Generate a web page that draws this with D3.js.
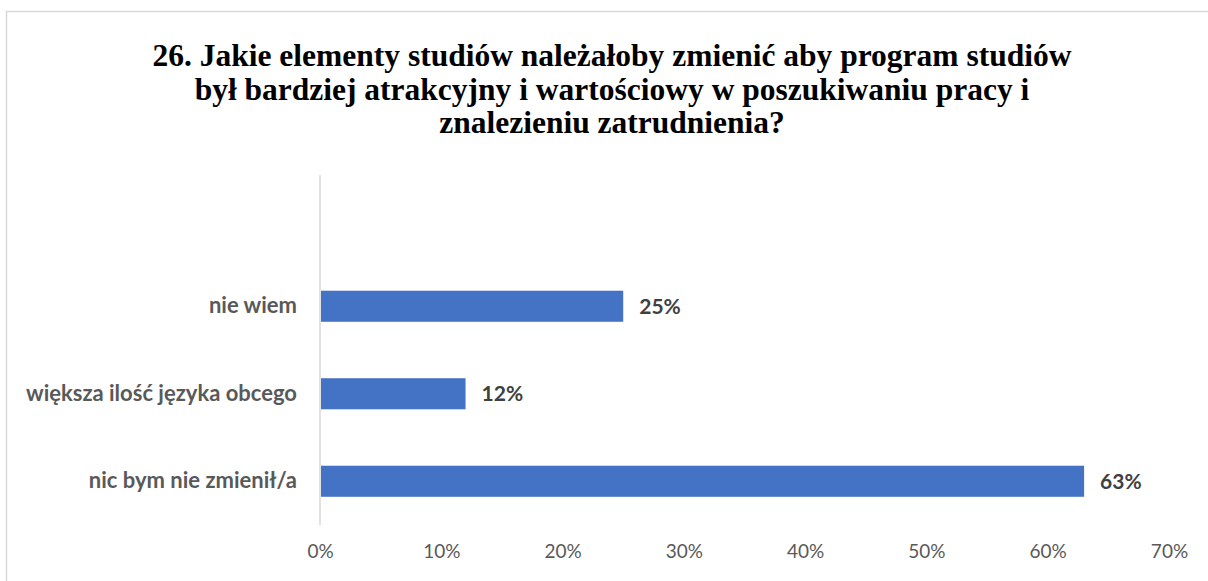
<!DOCTYPE html>
<html><head><meta charset="utf-8">
<script src="https://cdn.jsdelivr.net/npm/d3@7"></script>
<style>body{margin:0;background:#fff}svg{display:block}</style>
</head><body>
<script>
const titleLines = [
  "26. Jakie elementy studiów należałoby zmienić aby program studiów",
  "był bardziej atrakcyjny i wartościowy w poszukiwaniu pracy i",
  "znalezieniu zatrudnienia?"
];
const categories = ["", "nie wiem", "większa ilość języka obcego", "nic bym nie zmienił/a"];
const values = [null, 25, 12, 63];
const ticks = [0, 10, 20, 30, 40, 50, 60, 70];

const W = 1208, H = 581;
const svg = d3.select("body").append("svg").attr("width", W).attr("height", H);

svg.append("rect").attr("x", 6.5).attr("y", 11.5).attr("width", 1400).attr("height", 800)
  .attr("fill", "none").attr("stroke", "#d9d9d9").attr("stroke-width", 1.5);

const title = svg.append("text").attr("text-anchor", "middle")
  .attr("font-family", "'Liberation Serif','Times New Roman',serif")
  .attr("font-weight", "bold").attr("font-size", 31.5).attr("fill", "#000");
titleLines.forEach((t, i) => {
  title.append("tspan").attr("x", 612).attr("y", 66 + i * 33.5).text(t);
});

const x = d3.scaleLinear().domain([0, 70]).range([320, 1169]);
const y = d3.scaleBand().domain(categories).range([175, 525]).paddingInner(0.645).paddingOuter(0.3225);

// vertical axis line
svg.append("line").attr("x1", x(0)).attr("x2", x(0)).attr("y1", 175).attr("y2", 525)
  .attr("stroke", "#d9d9d9").attr("stroke-width", 1.5);

const data = categories.map((c, i) => ({c, v: values[i]})).filter(d => d.v != null);

svg.selectAll("rect.bar").data(data).enter().append("rect").attr("class", "bar")
  .attr("x", x(0) + 1).attr("y", d => y(d.c))
  .attr("width", d => x(d.v) - x(0) - 1).attr("height", y.bandwidth())
  .attr("fill", "#4472c4");

svg.selectAll("text.val").data(data).enter().append("text").attr("class", "val")
  .attr("x", d => x(d.v) + 16).attr("y", d => y(d.c) + y.bandwidth() / 2)
  .attr("dy", "0.36em")
  .attr("font-family", "Lato, 'Noto Sans', sans-serif").attr("font-weight", "bold")
  .attr("font-size", 21).attr("fill", "#404040")
  .text(d => d.v + "%");

const yAxis = d3.axisLeft(y).tickSize(0).tickPadding(23);
const gy = svg.append("g").attr("transform", `translate(${x(0)},0)`).call(yAxis);
gy.select(".domain").remove();
gy.selectAll("text").attr("font-family", "Lato, 'Noto Sans', sans-serif")
  .attr("font-weight", "bold").attr("font-size", 22).attr("fill", "#595959");

const xAxis = d3.axisBottom(x).tickValues(ticks).tickFormat(d => d + "%").tickSize(0).tickPadding(0);
const gx = svg.append("g").attr("transform", `translate(0,544)`).call(xAxis);
gx.select(".domain").remove();
gx.selectAll("text").attr("font-family", "Lato, 'Noto Sans', sans-serif")
  .attr("font-size", 19).attr("fill", "#595959").attr("dy", "0.71em");
</script>
</body></html>
